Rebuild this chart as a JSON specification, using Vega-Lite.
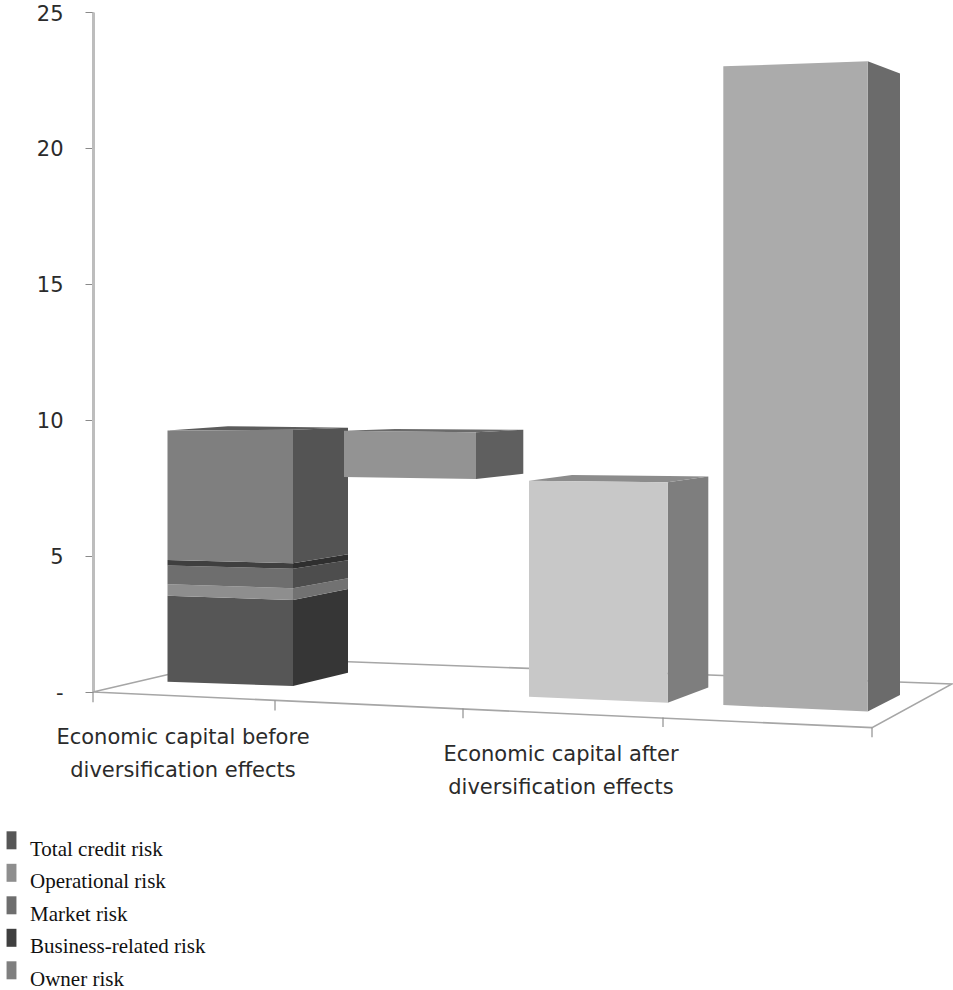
{
  "$schema": "https://vega.github.io/schema/vega-lite/v6.json",
  "width": 860,
  "height": 990,
  "autosize": "none",
  "padding": {"left": 93, "top": 0, "right": 0, "bottom": 0},
  "background": "white",
  "config": {"view": {"stroke": null}},
  "datasets": {
    "faces": [
      {"face": "side", "segment": "Total credit risk", "x": 200, "y": 3.37, "y2": 0.20},
      {"face": "side", "segment": "Total credit risk", "x": 255, "y": 3.77, "y2": 0.69},
      {"face": "side", "segment": "Operational risk", "x": 200, "y": 3.80, "y2": 3.37},
      {"face": "side", "segment": "Operational risk", "x": 255, "y": 4.17, "y2": 3.77},
      {"face": "side", "segment": "Market risk", "x": 200, "y": 4.52, "y2": 3.80},
      {"face": "side", "segment": "Market risk", "x": 255, "y": 4.83, "y2": 4.17},
      {"face": "side", "segment": "Business-related risk", "x": 200, "y": 4.72, "y2": 4.52},
      {"face": "side", "segment": "Business-related risk", "x": 255, "y": 5.05, "y2": 4.83},
      {"face": "side", "segment": "Owner risk", "x": 200, "y": 9.63, "y2": 4.72},
      {"face": "side", "segment": "Owner risk", "x": 255, "y": 9.70, "y2": 5.05},
      {"face": "side", "segment": "Diversification effect", "x": 383, "y": 9.54, "y2": 7.82},
      {"face": "side", "segment": "Diversification effect", "x": 430.3, "y": 9.63, "y2": 8.01},
      {"face": "side", "segment": "Capital after diversification", "x": 574.7, "y": 7.70, "y2": -0.41},
      {"face": "side", "segment": "Capital after diversification", "x": 615.3, "y": 7.91, "y2": 0.15},
      {"face": "side", "segment": "Tallest column", "x": 774.7, "y": 23.19, "y2": -0.74},
      {"face": "side", "segment": "Tallest column", "x": 807, "y": 22.74, "y2": -0.13},

      {"face": "top", "segment": "Owner risk", "x": 74.5, "y": 9.60, "y2": 9.60},
      {"face": "top", "segment": "Owner risk", "x": 135, "y": 9.76, "y2": 9.62},
      {"face": "top", "segment": "Owner risk", "x": 200, "y": 9.73, "y2": 9.63},
      {"face": "top", "segment": "Owner risk", "x": 255, "y": 9.70, "y2": 9.70},
      {"face": "top", "segment": "Diversification effect", "x": 251, "y": 9.59, "y2": 9.59},
      {"face": "top", "segment": "Diversification effect", "x": 302, "y": 9.66, "y2": 9.57},
      {"face": "top", "segment": "Diversification effect", "x": 383, "y": 9.64, "y2": 9.54},
      {"face": "top", "segment": "Diversification effect", "x": 430.3, "y": 9.63, "y2": 9.63},
      {"face": "top", "segment": "Capital after diversification", "x": 436, "y": 7.75, "y2": 7.75},
      {"face": "top", "segment": "Capital after diversification", "x": 479, "y": 7.97, "y2": 7.74},
      {"face": "top", "segment": "Capital after diversification", "x": 574.7, "y": 7.93, "y2": 7.70},
      {"face": "top", "segment": "Capital after diversification", "x": 615.3, "y": 7.91, "y2": 7.91},

      {"face": "front", "segment": "Total credit risk", "x": 74.5, "y": 3.52, "y2": 0.36},
      {"face": "front", "segment": "Total credit risk", "x": 200, "y": 3.37, "y2": 0.20},
      {"face": "front", "segment": "Operational risk", "x": 74.5, "y": 3.95, "y2": 3.52},
      {"face": "front", "segment": "Operational risk", "x": 200, "y": 3.80, "y2": 3.37},
      {"face": "front", "segment": "Market risk", "x": 74.5, "y": 4.64, "y2": 3.95},
      {"face": "front", "segment": "Market risk", "x": 200, "y": 4.52, "y2": 3.80},
      {"face": "front", "segment": "Business-related risk", "x": 74.5, "y": 4.84, "y2": 4.64},
      {"face": "front", "segment": "Business-related risk", "x": 200, "y": 4.72, "y2": 4.52},
      {"face": "front", "segment": "Owner risk", "x": 74.5, "y": 9.60, "y2": 4.84},
      {"face": "front", "segment": "Owner risk", "x": 200, "y": 9.63, "y2": 4.72},
      {"face": "front", "segment": "Diversification effect", "x": 251, "y": 9.59, "y2": 7.89},
      {"face": "front", "segment": "Diversification effect", "x": 383, "y": 9.54, "y2": 7.82},
      {"face": "front", "segment": "Capital after diversification", "x": 436, "y": 7.75, "y2": -0.19},
      {"face": "front", "segment": "Capital after diversification", "x": 574.7, "y": 7.70, "y2": -0.41},
      {"face": "front", "segment": "Tallest column", "x": 630.3, "y": 23.00, "y2": -0.50},
      {"face": "front", "segment": "Tallest column", "x": 774.7, "y": 23.19, "y2": -0.74}
    ],
    "floor": [
      {"seq": 1, "x": 0, "y": -0.02},
      {"seq": 2, "x": 779, "y": -1.33},
      {"seq": 3, "x": 859, "y": 0.28},
      {"seq": 4, "x": 147, "y": 1.24},
      {"seq": 5, "x": 0, "y": -0.02}
    ],
    "floorTicks": [
      {"x": 0, "y": -0.02, "y2": -0.40},
      {"x": 182, "y": -0.33, "y2": -0.70},
      {"x": 370, "y": -0.63, "y2": -0.98},
      {"x": 570, "y": -0.96, "y2": -1.31},
      {"x": 779, "y": -1.33, "y2": -1.68}
    ],
    "categoryLabels": [
      {"x": 90, "y": -1.93, "label": "Economic capital before"},
      {"x": 90, "y": -3.15, "label": "diversification effects"},
      {"x": 468, "y": -2.56, "label": "Economic capital after"},
      {"x": 468, "y": -3.77, "label": "diversification effects"}
    ]
  },
  "encoding": {
    "x": {
      "field": "x",
      "type": "quantitative",
      "axis": null,
      "scale": {"domain": [0, 860], "range": [0, 860]}
    },
    "y": {
      "field": "y",
      "type": "quantitative",
      "scale": {"domain": [0, 25], "range": [691.5, 12], "nice": false, "zero": false},
      "axis": {
        "title": null,
        "values": [0, 5, 10, 15, 20, 25],
        "labelExpr": "datum.value === 0 ? '-\u00a0\u00a0' : datum.value",
        "grid": false,
        "domainColor": "#bdbdbd",
        "domainWidth": 3,
        "tickColor": "#8a8a8a",
        "tickSize": 8,
        "tickWidth": 1,
        "labelFont": "DejaVu Sans",
        "labelFontSize": 21,
        "labelColor": "#2b2b2b",
        "labelPadding": 22,
        "labelOffset": 2
      }
    }
  },
  "layer": [
    {
      "data": {"name": "floor"},
      "mark": {"type": "line", "color": "#a6a6a6", "strokeWidth": 1.6},
      "encoding": {"order": {"field": "seq", "type": "ordinal"}}
    },
    {
      "data": {"name": "floorTicks"},
      "mark": {"type": "rule", "color": "#8f8f8f", "strokeWidth": 1.2},
      "encoding": {"y2": {"field": "y2"}}
    },
    {
      "data": {"name": "faces"},
      "transform": [{"filter": "datum.face === 'side'"}],
      "mark": {"type": "area", "interpolate": "linear"},
      "encoding": {
        "y2": {"field": "y2"},
        "color": {
          "field": "segment",
          "type": "nominal",
          "legend": null,
          "scale": {
            "domain": ["Total credit risk", "Operational risk", "Market risk", "Business-related risk", "Owner risk", "Diversification effect", "Capital after diversification", "Tallest column"],
            "range": ["#363636", "#727272", "#4d4d4d", "#2f2f2f", "#545454", "#5f5f5f", "#7e7e7e", "#6b6b6b"]
          }
        }
      }
    },
    {
      "data": {"name": "faces"},
      "transform": [{"filter": "datum.face === 'top'"}],
      "mark": {"type": "area", "interpolate": "linear"},
      "encoding": {
        "y2": {"field": "y2"},
        "color": {
          "field": "segment",
          "type": "nominal",
          "legend": null,
          "scale": {
            "domain": ["Owner risk", "Diversification effect", "Capital after diversification"],
            "range": ["#5c5c5c", "#6a6a6a", "#8c8c8c"]
          }
        }
      }
    },
    {
      "data": {"name": "faces"},
      "transform": [{"filter": "datum.face === 'front'"}],
      "mark": {"type": "area", "interpolate": "linear"},
      "encoding": {
        "y2": {"field": "y2"},
        "color": {
          "field": "segment",
          "type": "nominal",
          "scale": {
            "domain": ["Total credit risk", "Operational risk", "Market risk", "Business-related risk", "Owner risk", "Diversification effect", "Capital after diversification", "Tallest column"],
            "range": ["#565656", "#8e8e8e", "#6e6e6e", "#3f3f3f", "#7f7f7f", "#939393", "#c8c8c8", "#ababab"]
          },
          "legend": {
            "orient": "none",
            "legendX": -92,
            "legendY": 828,
            "title": null,
            "values": ["Total credit risk", "Operational risk", "Market risk", "Business-related risk", "Owner risk"],
            "symbolType": "M-0.55,-0.8L0.55,-0.8L0.55,1.2L-0.55,1.2Z",
            "symbolSize": 324,
            "symbolStrokeWidth": 0,
            "labelFont": "Liberation Serif",
            "labelFontSize": 21,
            "labelColor": "#111111",
            "labelBaseline": "top",
            "labelOffset": 8,
            "labelLimit": 300,
            "rowPadding": 0.5
          }
        }
      }
    },
    {
      "data": {"name": "categoryLabels"},
      "mark": {"type": "text", "font": "DejaVu Sans", "fontSize": 21, "color": "#2b2b2b", "align": "center", "baseline": "alphabetic"},
      "encoding": {"text": {"field": "label", "type": "nominal"}}
    }
  ],
  "resolve": {"scale": {"color": "independent"}}
}
